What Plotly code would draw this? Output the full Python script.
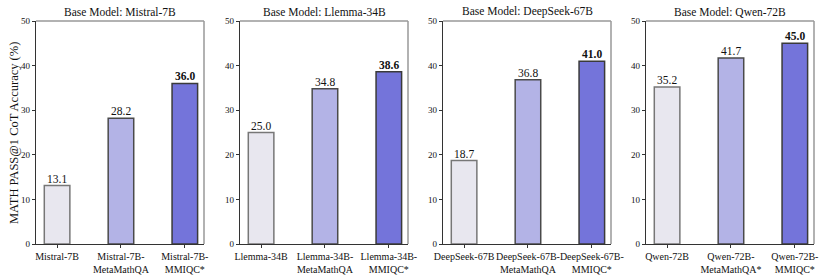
import plotly.graph_objects as go

W, H = 830, 277

base_models = ["Mistral-7B", "Llemma-34B", "DeepSeek-67B", "Qwen-72B"]
categories = [
    ["Mistral-7B", "Mistral-7B-<br>MetaMathQA", "Mistral-7B-<br>MMIQC*"],
    ["Llemma-34B", "Llemma-34B-<br>MetaMathQA", "Llemma-34B-<br>MMIQC*"],
    ["DeepSeek-67B", "DeepSeek-67B-<br>MetaMathQA", "DeepSeek-67B-<br>MMIQC*"],
    ["Qwen-72B", "Qwen-72B-<br>MetaMathQA*", "Qwen-72B-<br>MMIQC*"],
]
values = [
    [13.1, 28.2, 36.0],
    [25.0, 34.8, 38.6],
    [18.7, 36.8, 41.0],
    [35.2, 41.7, 45.0],
]
y_ticks = [0, 10, 20, 30, 40, 50]

bar_colors = ["#E8E7EF", "#B3B3E6", "#7474DA"]
bar_lines = ["#777777", "#4a4a4a", "#3a3a3a"]

FONT = "Liberation Serif"

# panel pixel extents
lefts = [36, 240, 443, 646]
pw = 168
y_top, y_bot = 21, 244

fig = go.Figure()
annotations = []
for i in range(4):
    xa = "x" if i == 0 else f"x{i+1}"
    ya = "y" if i == 0 else f"y{i+1}"
    xs = list(range(3))
    fig.add_trace(go.Bar(
        x=xs, y=values[i], width=0.4,
        marker=dict(color=bar_colors, line=dict(color=bar_lines, width=1.5)),
        xaxis=xa, yaxis=ya, showlegend=False, hoverinfo="skip",
    ))
    for j, v in enumerate(values[i]):
        t = f"{v:.1f}"
        if j == 2:
            t = f"<b>{t}</b>"
        annotations.append(dict(
            text=t, x=xs[j], y=v, xref=xa, yref=ya, xanchor="center",
            yanchor="bottom", yshift=-1, showarrow=False,
            font=dict(family=FONT, size=11.5, color="#111"),
        ))
    d0 = lefts[i] / W
    d1 = (lefts[i] + pw) / W
    axkey = "xaxis" if i == 0 else f"xaxis{i+1}"
    aykey = "yaxis" if i == 0 else f"yaxis{i+1}"
    fig.update_layout(**{
        axkey: dict(
            domain=[d0, d1], range=[-0.33, 2.3], anchor=ya, automargin=False,
            tickmode="array", tickvals=xs, ticktext=categories[i], tickangle=0,
            tickfont=dict(family=FONT, size=10, color="#111"),
            ticks="outside", ticklen=3, tickcolor="#333",
            showline=True, linecolor="#333", linewidth=1.2, mirror=False,
            showgrid=False, zeroline=False, fixedrange=True,
        ),
        aykey: dict(
            domain=[(H - y_bot) / H, (H - y_top) / H], range=[0, 50], anchor=xa,
            automargin=False,
            tickmode="array", tickvals=y_ticks,
            tickfont=dict(family=FONT, size=9, color="#111"),
            ticks="outside", ticklen=3, tickcolor="#333",
            showline=True, linecolor="#333", linewidth=1.2,
            showgrid=False, zeroline=False, fixedrange=True,
        ),
    })
    # top and right spines (gray)
    fig.add_shape(type="line", xref=f"{xa} domain", yref=f"{ya} domain",
                  x0=0, x1=1, y0=1, y1=1, line=dict(color="#999999", width=1.5))
    fig.add_shape(type="line", xref=f"{xa} domain", yref=f"{ya} domain",
                  x0=1, x1=1, y0=0, y1=1, line=dict(color="#999999", width=1.5))
    annotations.append(dict(
        text=f"Base Model: {base_models[i]}", xref="paper", yref="paper",
        x=(lefts[i] + pw / 2) / W, y=(H - 12) / H, xanchor="center", yanchor="middle",
        showarrow=False, font=dict(family=FONT, size=11.5, color="#111"),
    ))

annotations.append(dict(
    text="MATH PASS@1 CoT Accuracy (%)", xref="paper", yref="paper",
    x=14 / W, y=(H - 133) / H, textangle=-90,
    xanchor="center", yanchor="middle", showarrow=False,
    font=dict(family=FONT, size=12.5, color="#111"),
))

fig.update_layout(
    width=W, height=H, margin=dict(l=0, r=0, t=0, b=0),
    paper_bgcolor="white", plot_bgcolor="white",
    annotations=annotations, bargap=0,
)

fig.write_html(
    "out.html",
    config={"displayModeBar": False, "staticPlot": True},
    post_script="document.body.style.margin='0';document.body.style.overflow='hidden';",
)
